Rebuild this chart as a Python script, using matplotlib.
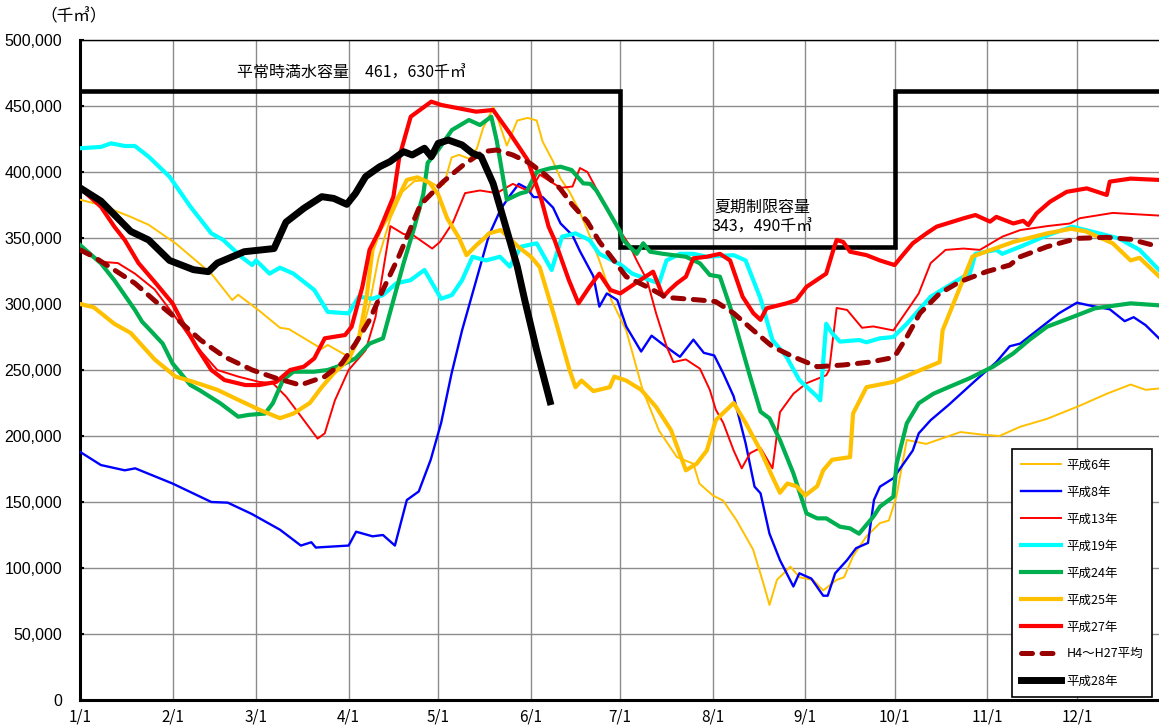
import matplotlib
matplotlib.use("Agg")
import matplotlib.pyplot as plt
from matplotlib.ticker import FuncFormatter

plt.rcParams['font.family'] = ['Noto Sans CJK JP', 'DejaVu Sans']

# storage in units of 1,000 (千m3); x = days after 1/1
month_days = [0, 31, 59, 90, 120, 151, 181, 212, 243, 273, 304, 334]
month_labels = ["1/1", "2/1", "3/1", "4/1", "5/1", "6/1", "7/1", "8/1", "9/1", "10/1", "11/1", "12/1"]

cap_days = [0, 181, 181, 273, 273, 361.5]
cap_values = [461.63, 461.63, 343.49, 343.49, 461.63, 461.63]

h6_days = [0, 7, 17, 23, 32, 44, 51, 53, 60, 67, 70, 81, 83, 90, 94, 97, 100, 104, 108, 112,
           116, 120, 122, 124.5, 127, 130.5, 133, 135, 138.5, 140, 143, 146.5, 150, 153, 155, 158.5, 161, 164, 167, 170,
           174, 177, 178, 183, 188.5, 194, 200, 205.5, 207.5, 212, 215.5, 220, 225.5, 229, 231, 233.5, 238, 241, 245.5, 249,
           253.5, 256, 259, 263.5, 268, 271, 273.5, 277, 283.5, 295, 302.5, 308, 315, 324, 335, 344, 352, 357, 361.5]
h6_vals = [379, 375, 366, 360, 346, 323, 303, 307, 295, 282, 281, 266, 269, 260, 275, 300, 335, 365, 385, 393,
           394, 389, 391, 411, 413, 410, 418, 433, 449, 440, 420, 439, 441, 439, 423, 408, 395, 385, 372, 356,
           333, 313, 303, 280, 235, 204, 184, 179, 164, 155, 151, 136, 114, 88, 72, 91, 101, 93, 91, 83,
           91, 93, 109, 124, 134, 136, 154, 197, 194, 203, 201, 200, 207, 213, 223, 232, 239, 235, 236]

h8_days = [0, 7, 15, 18.5, 31, 44, 49.5, 57.5, 67, 74, 77.5, 79, 90, 92.5, 98, 101.5, 105.5, 109.5, 113.5, 117.5,
           121, 124.5, 128, 132.5, 137, 141, 144, 147, 149.5, 152, 155, 158.5, 161, 165, 167.5, 172, 174, 176.5, 180, 183,
           188, 191.5, 195.5, 201, 205.5, 209, 212.5, 215.5, 219, 223, 226, 228, 231, 234.5, 239, 241, 245, 249, 250.5, 253,
           257, 260, 264, 266, 268, 272.5, 279, 281, 285, 291, 300, 307, 311.5, 315, 328, 334, 338, 345, 350, 353, 357, 361.5]
h8_vals = [188, 178, 174, 175.5, 164, 150, 149.5, 141, 129, 117, 119.5, 115.5, 117, 127.5, 124, 125, 117, 151.5, 158, 182,
           210, 247.5, 280, 316, 352, 372, 382, 391, 388, 381, 381, 373, 361, 352, 340, 321, 298, 308, 303, 283,
           264, 276, 269, 260, 273, 263, 261, 247.5, 230, 194.5, 161.6, 156.6, 126, 106, 86, 96, 92, 79, 79, 96,
           106, 115, 119, 151.5, 161.6, 168, 189, 202, 212, 223.5, 242, 256, 268, 270, 293, 301, 299, 296, 287, 290, 284, 274]

h13_days = [0, 7, 12.7, 18.4, 25, 32, 39, 46, 53, 60, 64.6, 69, 74, 79.6, 82, 85.4, 90, 95.7, 99, 104,
            108.4, 111.7, 118, 120.6, 125, 129, 134, 139.6, 145, 150.8, 154, 161, 165, 167.5, 170, 174, 181, 184, 186.5, 190,
            193, 196.5, 198.8, 203, 207.7, 211, 213, 215.5, 219, 221.7, 224.5, 228, 232, 234.5, 239, 243.4, 250, 251, 253.5, 257,
            262, 265.8, 272.5, 278, 281, 285, 290, 296, 301.5, 309, 315, 324, 331.7, 335, 346, 361.5]
h13_vals = [341, 332, 331, 323, 311, 290, 268, 250, 245, 241, 240, 230, 215, 198, 202, 227, 250, 265, 290, 359,
            353, 352, 342, 347, 362, 384, 386, 384, 391, 385, 398, 388, 389, 403, 400, 383, 355, 345, 333, 318,
            293, 268, 256, 258, 251, 235, 220, 210, 189, 175.5, 187, 191, 175.5, 218, 232, 240, 246, 250, 297, 295.5,
            282, 283, 280, 298, 308, 331, 341, 342, 341, 351, 356, 359, 361, 365, 369, 367]

h19_days = [0, 7, 10.4, 15, 18.4, 23, 30, 37, 44, 48, 54, 57.7, 59, 63.5, 67, 71.5, 78.5, 83, 90, 93.4,
            98, 101.5, 106, 110.7, 115.4, 121, 124.6, 128, 131.5, 136, 140.7, 144, 147.7, 153, 158, 161.5, 166, 170.7, 174, 181,
            185, 191, 194, 196.5, 201, 205.5, 210, 219, 223, 228, 232, 236.7, 241, 247, 248, 250, 252, 254.6, 261, 263.5,
            268, 272.5, 277, 285, 296, 298, 300, 307, 309, 315, 324, 332.4, 344, 348, 355, 361.5]
h19_vals = [418, 419, 421.7, 419.7, 419.7, 411.6, 396.4, 373.7, 353.5, 348.5, 335.8, 329.5, 333, 323, 327.5, 323, 310.6, 294, 292.9, 305.5,
            304, 306.8, 315.7, 318, 325.8, 304, 306.8, 318, 335.8, 333, 335.8, 328.3, 343.4, 346, 325.8, 351, 353.5, 348.5, 338, 330,
            323, 318, 315.7, 333, 338, 338, 335.8, 337, 333, 304, 272.7, 260, 242.4, 229.8, 227, 285, 277.8, 271.5, 272.7, 271,
            274, 275, 285, 305.5, 320.7, 322, 338, 341, 338, 343.4, 352, 358.6, 352, 349.7, 341, 325.8]

h24_days = [0, 7, 11.5, 18.4, 20.8, 24, 27.7, 31, 37, 40, 47, 53, 56.5, 62, 64.6, 68, 71.5, 78.4, 83, 87.7,
            92.3, 97, 101.5, 103.8, 108.4, 112, 115, 116.5, 120, 124.6, 130.3, 134, 137.8, 139.6, 143, 147.5, 149.6, 153, 157.5, 161,
            164.7, 168.6, 171, 173, 176.5, 181, 182, 186.5, 188.7, 191, 195.4, 203, 207.7, 211, 214.4, 217.8, 221, 224.5, 228, 231,
            234.5, 239, 243.4, 247, 250, 254.6, 258, 261, 265.8, 268, 272.5, 273.6, 277, 281, 285.9, 291, 298, 305.9, 312.7, 318,
            324, 332.4, 340, 352, 361.5]
h24_vals = [344.7, 330.8, 318, 295.5, 286.6, 279, 270, 255, 238.6, 234.8, 224.8, 214.6, 216, 217, 224.8, 242.4, 248.7, 248.7, 250, 253.8,
            258.8, 270, 274, 293, 330.8, 358, 383, 407, 416.7, 431.8, 439.4, 435.6, 441.9, 424, 379, 383.8, 385, 400, 402.8, 404,
            401.5, 391.4, 391, 386, 372.5, 354.8, 348.5, 338, 346, 339.6, 338, 335.8, 330.8, 322, 320.7, 298, 272.7, 245, 218.4, 213.4,
            197, 171.7, 141.4, 137.6, 137.6, 131.3, 130, 126, 138.9, 146.5, 154, 179, 209.6, 224.8, 232, 237, 243.7, 252.5, 262.6, 272.7,
            282.8, 290, 296.7, 300.5, 299]

h25_days = [0, 4.6, 11.5, 17, 25, 32, 38, 46, 52, 60, 67, 71.5, 77, 81, 85, 90, 93.5, 96, 98, 100.4,
            104, 109.5, 113, 117, 120, 123, 127, 129.5, 133, 136, 137, 141, 147, 151, 154, 159, 164, 166, 168, 172,
            177.5, 179, 183, 188, 193, 198, 203, 206.6, 210, 213, 219, 223, 228, 232, 234.5, 237, 240, 243, 247, 249,
            252, 258, 259, 263.5, 272.5, 279, 288, 289, 299, 312.7, 324, 332, 337, 346, 352, 355, 361.5]
h25_vals = [300, 297.5, 285, 278, 258, 245, 241, 235, 228.5, 220, 213.5, 217, 225, 237, 247.5, 258, 275, 305, 341, 356,
            369, 394, 396, 392, 383, 365, 350, 337, 345, 351, 353.5, 356, 343, 336, 328, 290, 250, 237, 242, 234,
            237, 245, 242, 235, 222, 204.5, 174, 179, 189, 212, 225, 210, 189, 169, 157, 164, 162, 155, 162, 174,
            182, 184, 217, 237, 241, 247.5, 256, 280, 336, 347, 353.5, 357, 355, 346, 333, 335, 321]

h27_days = [0, 7, 11.5, 15, 19.6, 25.4, 31, 34.6, 39, 44, 48.4, 55.4, 60, 65.8, 70.4, 75, 78.5, 82, 88.8, 91,
            94.6, 97, 100.4, 105, 107, 110.8, 115.4, 117.7, 121, 127, 132.7, 138.4, 144, 150, 154.6, 157, 159, 163.8, 167, 170.7,
            174, 177.7, 181, 187.6, 192, 195.4, 197.5, 200, 203, 205.5, 210, 214.4, 217.8, 222, 225.6, 228, 230, 236.7, 240, 243.4,
            250, 252.4, 253.5, 255.7, 258, 263.5, 268, 272.9, 276, 279, 283.6, 287, 296, 300, 304.9, 307, 312.7, 316, 317.7, 320.5,
            325, 330.6, 337.3, 344, 345, 352, 361.5]
h27_vals = [388, 373.7, 358.6, 348.5, 331, 315.7, 300.5, 285, 267.7, 250, 242.4, 238.6, 238.6, 241, 250, 252.5, 258.8, 274, 276.5, 282.8,
            313, 341, 356, 381.3, 411.6, 441.9, 449.5, 453.3, 450.8, 448.2, 445.7, 447, 429.3, 409, 378.8, 358.6, 348.5, 318, 300.5, 313,
            323, 310.6, 308, 318, 324.5, 305.5, 310.6, 315.7, 320.7, 334.6, 335.8, 338, 333, 305.5, 293, 288, 296.7, 300.5, 303, 313,
            323, 341, 348.5, 347, 339.6, 337, 333, 329.5, 338, 346, 353.5, 358.6, 364.9, 367.4, 362.4, 366, 361, 363, 359.8, 368.7,
            377.5, 385, 387.6, 382.6, 392.7, 395, 394]

avg_days = [0, 4.6, 11.5, 18.4, 25.4, 32.3, 40.4, 48.4, 57.7, 65.8, 73.8, 82, 87.7, 92.3, 97, 101.5, 107, 114, 121.7, 128.4,
            135, 139.6, 145, 150.8, 156, 160.8, 165, 170, 174, 177.5, 183, 190, 196.5, 207.7, 213, 219, 225.6, 232, 239, 247,
            255.7, 264.7, 271, 273.6, 277, 281.4, 288, 294.8, 303.7, 311.5, 315, 324, 334, 344, 352, 361.5]
avg_vals = [341, 335.8, 325.8, 315.7, 301.8, 289, 272.7, 260, 250, 243.7, 238.6, 245, 255, 270, 287.9, 310.6, 337, 375, 392.7, 405.3,
            415.4, 416.7, 412.9, 406.6, 397.7, 387.6, 375, 362.4, 347.2, 337, 320.7, 313, 305, 303, 301.8, 293, 280, 267.7, 260, 252.5,
            253.8, 256, 258.8, 262.6, 275, 293, 308, 316.9, 324.5, 329.5, 335.8, 343.4, 349.7, 350.5, 349, 343.4]

h28_days = [0, 7, 17, 23, 30, 38, 43, 46, 55, 65, 69, 75, 81, 85, 89.4, 92.3, 95.7, 100.4, 103.8, 108.4,
            111.3, 115.4, 117.7, 120, 123.4, 128, 131.5, 134.4, 138.4, 142, 146.5, 149, 153, 157.5]
h28_vals = [388, 378, 355, 348.5, 333, 326, 324.5, 331, 339.6, 342, 362, 372.5, 381.3, 380, 375.5, 383.8, 396.5, 404, 407.8, 415.4,
            412.9, 418, 411.6, 421.7, 424.2, 420.5, 414.2, 411.6, 391.4, 363.6, 328.3, 303, 265, 226]

series = [
    (h6_days, h6_vals, "平成6年", "#FFC000", 1.4, "-"),
    (h8_days, h8_vals, "平成8年", "#0000FF", 1.7, "-"),
    (h13_days, h13_vals, "平成13年", "#FF0000", 1.4, "-"),
    (h19_days, h19_vals, "平成19年", "#00FFFF", 3.0, "-"),
    (h24_days, h24_vals, "平成24年", "#00B050", 3.0, "-"),
    (h25_days, h25_vals, "平成25年", "#FFC000", 3.0, "-"),
    (h27_days, h27_vals, "平成27年", "#FF0000", 3.0, "-"),
    (avg_days, avg_vals, "H4～H27平均", "#990000", 3.6, "--"),
    (h28_days, h28_vals, "平成28年", "#000000", 5.0, "-"),
]

fig = plt.figure(figsize=(11.59, 7.25), dpi=100)
ax = fig.add_axes([80 / 1159, 25 / 725, 1079 / 1159, 660 / 725])

ax.plot(cap_days, cap_values, color="black", lw=3.3, zorder=3, solid_joinstyle="miter")

handles = []
for i, (d, v, label, color, lw, ls) in enumerate(series):
    assert len(d) == len(v), label
    if ls == "--":
        line, = ax.plot(d, v, color=color, lw=lw, dashes=(2.2, 1.9), dash_capstyle="round",
                        label=label, zorder=4 + i)
    else:
        line, = ax.plot(d, v, color=color, lw=lw, label=label, zorder=4 + i,
                        solid_joinstyle="round")
    handles.append(line)

ax.set_xlim(0, 361.5)
ax.set_ylim(0, 500)
ax.set_xticks(month_days)
ax.set_xticklabels(month_labels, fontsize=11)
ax.set_yticks(range(0, 501, 50))
ax.yaxis.set_major_formatter(FuncFormatter(lambda v, p: f"{v * 1000:,.0f}"))
for t in ax.get_yticklabels():
    t.set_fontfamily("Liberation Sans")
    t.set_fontsize(11.5)
ax.tick_params(axis="y", direction="in", length=3, width=1.5, pad=13)
ax.tick_params(axis="x", length=0, pad=6)
ax.grid(True, color="#8c8c8c", lw=1.0, zorder=1)
ax.set_axisbelow(True)

ax.spines["right"].set_visible(False)
ax.spines["top"].set_linewidth(1.0)
ax.spines["left"].set_linewidth(2.2)
ax.spines["bottom"].set_linewidth(2.2)

ax.text(91, 475, "平常時満水容量　461，630千㎥", ha="center", va="center", fontsize=11.5, zorder=20)
ax.text(228.5, 366, "夏期制限容量\n343，490千㎥", ha="center", va="center", fontsize=11.5,
        linespacing=1.25, zorder=20)
fig.text(40 / 1159, 1 - 17 / 725, "（千㎥）", ha="left", va="center", fontsize=12)

leg = ax.legend(handles=handles, loc="upper left", bbox_to_anchor=(0.8638, 0.3803),
                borderaxespad=0, fontsize=9, frameon=True, fancybox=False,
                edgecolor="black", framealpha=1, handlelength=3.2, handletextpad=0.4,
                labelspacing=1.12, borderpad=0.75)
leg.get_frame().set_linewidth(1.2)
leg.set_zorder(30)

fig.savefig("out.png", dpi=100)
